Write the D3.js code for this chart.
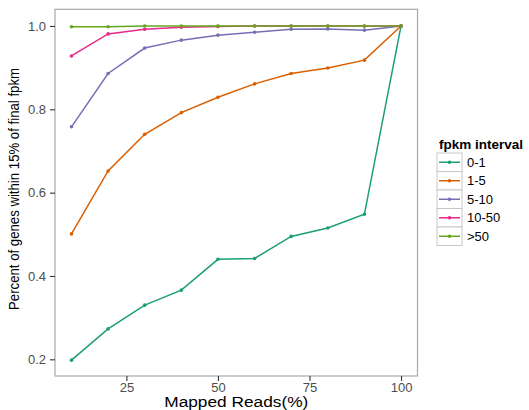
<!DOCTYPE html>
<html><head><meta charset="utf-8">
<script src="https://cdn.jsdelivr.net/npm/d3@7"></script>
<style>body{margin:0;background:#fff}svg{display:block}text{font-family:"Liberation Sans",Arial,sans-serif}</style>
</head><body><svg id="c" width="529" height="410"></svg>
<script>
const xValues = [10,20,30,40,50,60,70,80,90,100];
const seriesNames = ["0-1","1-5","5-10","10-50",">50"];
const s0_1   = [0.198,0.273,0.330,0.366,0.440,0.442,0.495,0.515,0.548,1.0];
const s1_5   = [0.501,0.652,0.740,0.792,0.829,0.861,0.886,0.899,0.918,1.0];
const s5_10  = [0.758,0.886,0.947,0.966,0.978,0.985,0.992,0.993,0.990,1.0];
const s10_50 = [0.928,0.981,0.992,0.997,0.999,1.0,1.0,1.0,1.0,1.0];
const s50    = [0.998,0.998,1.0,1.0,1.0,1.0,1.0,1.0,1.0,1.0];
const xTicks = [25,50,75,100];
const yTicks = [0.2,0.4,0.6,0.8,1.0];
const colors = ["#1B9E77","#D95F02","#7570B3","#E7298A","#66A61E"];
const seriesValues = [s0_1,s1_5,s5_10,s10_50,s50];

const svg = d3.select("#c");
const L=55, R=417.5, T=9.3, B=376;
const x = d3.scaleLinear().domain([5.5,104.5]).range([L,R]);
const y = d3.scaleLinear().domain([0.16,1.04]).range([B,T]);

svg.append("rect").attr("x",L).attr("y",T).attr("width",R-L).attr("height",B-T)
  .attr("fill","#fff").attr("stroke","#a8a8a8").attr("stroke-width",1.2);

const g = svg.append("g");
const line = d3.line().x(d=>x(d[0])).y(d=>y(d[1]));
seriesValues.forEach((vals,i)=>{
  const pts = xValues.map((xv,j)=>[xv,vals[j]]);
  g.append("path").attr("d",line(pts)).attr("fill","none").attr("stroke",colors[i]).attr("stroke-width",1.5);
  g.selectAll(null).data(pts).enter().append("circle")
    .attr("cx",d=>x(d[0])).attr("cy",d=>y(d[1])).attr("r",1.8).attr("fill",colors[i]);
});

// axes
const xa = svg.append("g").attr("transform",`translate(0,${B})`)
  .call(d3.axisBottom(x).tickValues(xTicks).tickSize(5).tickPadding(2).tickFormat(d3.format("d")));
const ya = svg.append("g").attr("transform",`translate(${L},0)`)
  .call(d3.axisLeft(y).tickValues(yTicks).tickSize(5).tickPadding(4).tickFormat(d3.format(".1f")));
[xa,ya].forEach(a=>{
  a.select(".domain").remove();
  a.selectAll(".tick line").attr("stroke","#333").attr("stroke-width",1.1);
  a.selectAll(".tick text").attr("fill","#4d4d4d").style("font-size","13px");
});

svg.append("text").attr("x",(L+R)/2).attr("y",407).attr("text-anchor","middle")
  .attr("fill","#000").style("font-size","14px").attr("textLength",144).attr("lengthAdjust","spacingAndGlyphs")
  .text("Mapped Reads(%)");
svg.append("text").attr("transform","translate(19,189) rotate(-90)").attr("text-anchor","middle")
  .attr("fill","#000").style("font-size","15px").attr("textLength",242).attr("lengthAdjust","spacingAndGlyphs")
  .text("Percent of genes within 15% of final fpkm");

// legend
const lg = svg.append("g");
lg.append("text").attr("x",439).attr("y",149).style("font-size","13.5px").style("font-weight","bold")
  .attr("fill","#000").text("fpkm interval");
const kh=18.5, ky0=153;
seriesNames.forEach((nm,i)=>{
  const yy = ky0 + i*kh;
  lg.append("rect").attr("x",437).attr("y",yy).attr("width",25).attr("height",kh)
    .attr("fill","#fff").attr("stroke","#c8c8c8").attr("stroke-width",1);
  lg.append("line").attr("x1",439).attr("x2",460).attr("y1",yy+kh/2).attr("y2",yy+kh/2)
    .attr("stroke",colors[i]).attr("stroke-width",1.5);
  lg.append("circle").attr("cx",449.5).attr("cy",yy+kh/2).attr("r",1.8).attr("fill",colors[i]);
  lg.append("text").attr("x",467).attr("y",yy+kh/2).attr("dy","0.35em").style("font-size","13px")
    .attr("fill","#000").text(nm);
});
</script></body></html>
